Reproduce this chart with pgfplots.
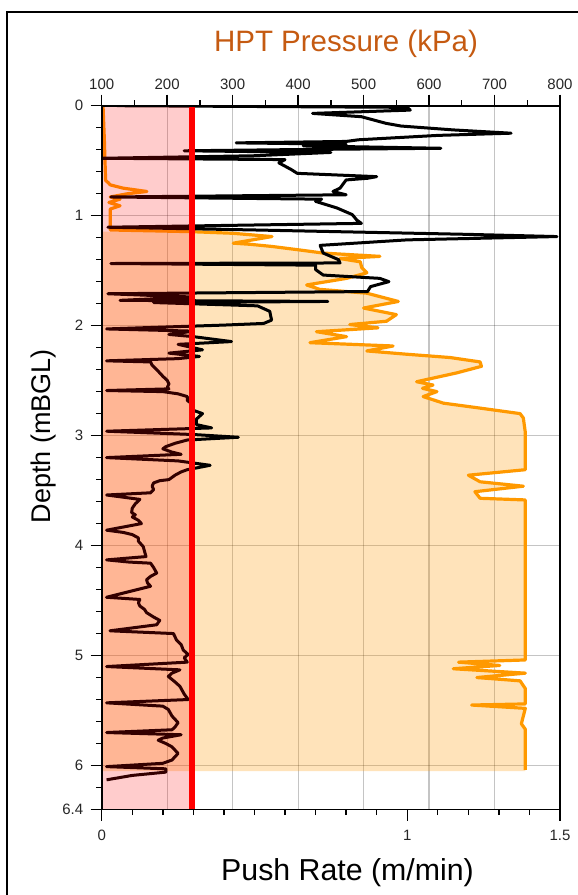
\documentclass[border=0pt]{standalone}
\usepackage{fontspec}
\setmainfont{Liberation Sans}
\usepackage{pgfplots}
\pgfplotsset{compat=1.18}
\usepackage{pgfplotstable}

\definecolor{hptTitle}{HTML}{C55A11}
\definecolor{hptLine}{HTML}{FF9900}

% HPT injection pressure (kPa) against depth (m below ground level)
\pgfplotstableread{
d p
0.00 102
0.15 103
0.30 104
0.50 105
0.68 106
0.70 110
0.72 113
0.75 133
0.78 169
0.80 140
0.83 113
0.85 128
0.88 111
0.91 128
0.94 113
1.08 113
1.13 113
1.145 235
1.16 300
1.19 360
1.25 301
1.26 326
1.28 360
1.31 400
1.34 438
1.37 525
1.39 464
1.42 495
1.47 497
1.52 505
1.57 474
1.63 413
1.67 433
1.705 505
1.78 553
1.84 500
1.90 550
1.96 535
1.99 479
2.02 522
2.055 428
2.10 474
2.155 418
2.185 545
2.23 505
2.26 566
2.29 632
2.33 678
2.37 680
2.43 642
2.51 581
2.54 606
2.57 590
2.60 612
2.645 591
2.705 622
2.75 678
2.80 739
2.84 744
2.97 747
3.31 747
3.36 660
3.42 678
3.46 744
3.51 670
3.57 678
3.585 747
5.04 747
5.06 645
5.09 708
5.12 637
5.16 747
5.20 673
5.23 739
5.30 747
5.44 747
5.45 665
5.48 747
5.62 741
5.67 747
6.04 747
}\pressure

% Push rate (m/min) against depth
\pgfplotstableread{
d u
0.000 0.05
0.015 1.00
0.040 1.01
0.070 0.69
0.100 0.85
0.160 0.93
0.185 0.98
0.220 1.15
0.250 1.34
0.270 1.10
0.310 0.84
0.325 0.80
0.338 0.44
0.350 0.80
0.365 0.66
0.387 1.11
0.400 0.60
0.410 0.27
0.425 0.75
0.455 0.50
0.478 0.00
0.490 0.60
0.520 0.58
0.580 0.62
0.615 0.64
0.645 0.90
0.660 0.87
0.675 0.80
0.750 0.78
0.780 0.757
0.810 0.80
0.830 0.03
0.850 0.72
0.870 0.70
0.930 0.77
0.990 0.82
1.040 0.835
1.070 0.85
1.105 0.02
1.130 0.50
1.170 1.20
1.190 1.49
1.220 1.00
1.270 0.715
1.340 0.725
1.400 0.775
1.430 0.78
1.435 0.03
1.450 0.70
1.490 0.70
1.540 0.725
1.570 0.91
1.600 0.94
1.645 0.88
1.690 0.87
1.710 0.02
1.740 0.30
1.770 0.06
1.780 0.74
1.790 0.17
1.820 0.51
1.870 0.55
1.950 0.556
1.980 0.53
1.995 0.40
2.030 0.016
2.050 0.30
2.080 0.22
2.100 0.30
2.145 0.425
2.170 0.25
2.220 0.33
2.250 0.22
2.280 0.32
2.300 0.25
2.320 0.016
2.330 0.16
2.360 0.165
2.400 0.18
2.430 0.19
2.460 0.20
2.500 0.215
2.530 0.22
2.560 0.215
2.575 0.22
2.590 0.016
2.600 0.20
2.620 0.25
2.645 0.28
2.680 0.28
2.720 0.30
2.770 0.30
2.800 0.33
2.850 0.31
2.900 0.31
2.930 0.36
2.960 0.016
2.990 0.30
3.015 0.447
3.040 0.28
3.070 0.24
3.100 0.21
3.120 0.20
3.150 0.23
3.170 0.26
3.200 0.016
3.230 0.25
3.270 0.355
3.310 0.28
3.330 0.26
3.360 0.24
3.400 0.22
3.410 0.19
3.430 0.17
3.460 0.165
3.490 0.17
3.520 0.16
3.540 0.016
3.580 0.125
3.620 0.11
3.660 0.10
3.700 0.098
3.720 0.11
3.740 0.10
3.770 0.12
3.800 0.13
3.860 0.016
3.880 0.07
3.900 0.10
3.930 0.12
3.960 0.12
4.010 0.136
4.050 0.14
4.100 0.145
4.130 0.016
4.150 0.09
4.160 0.16
4.200 0.17
4.250 0.18
4.280 0.16
4.310 0.147
4.340 0.15
4.370 0.16
4.470 0.016
4.490 0.125
4.520 0.12
4.550 0.125
4.580 0.14
4.610 0.147
4.650 0.17
4.680 0.19
4.720 0.18
4.775 0.027
4.800 0.235
4.830 0.24
4.860 0.245
4.900 0.26
4.950 0.267
4.990 0.283
5.020 0.27
5.060 0.28
5.100 0.016
5.130 0.256
5.160 0.23
5.190 0.218
5.240 0.24
5.280 0.256
5.350 0.27
5.400 0.283
5.430 0.016
5.460 0.20
5.490 0.218
5.550 0.23
5.610 0.25
5.650 0.24
5.675 0.23
5.700 0.016
5.720 0.26
5.750 0.20
5.770 0.185
5.800 0.21
5.830 0.23
5.890 0.25
5.950 0.23
5.980 0.20
6.010 0.016
6.030 0.21
6.060 0.21
6.090 0.10
6.130 0.016
}\pushrate

\pgfplotsset{
  logaxis/.style={
    at={(101.7pt,85.5pt)}, anchor=south west, scale only axis,
    width=458.3pt, height=703.8pt,
    ymin=0, ymax=6.4, y dir=reverse,
    tick align=outside, major tick length=11pt, minor tick length=5.5pt,
    ticklabel style={font=\fontsize{15}{18}\selectfont, text=black!85},
    /pgf/number format/assume math mode=true,
  },
}

\begin{document}
\begin{tikzpicture}
\useasboundingbox (0pt,0pt) rectangle (578pt,895pt);
\draw[line width=2pt] (7.3pt,0pt) -- (7.3pt,883pt) -- (578pt,883pt);

% pressure axis (top) with grid, shaded area and pressure trace
\begin{axis}[logaxis,
  xmin=100, xmax=800,
  axis x line*=top, axis y line*=left,
  x axis line style={-, line width=1.6pt},
  y axis line style={draw=none},
  xtick={100,200,...,800}, minor xtick={150,250,...,750},
  ytick={1,2,3,4,5,6}, yticklabels={},
  ytick style={draw=none},
  xtick style={line width=1.4pt, black},
  xticklabel style={yshift=2pt},
  grid=major, major grid style={black, opacity=0.23, line width=1.2pt},
]
\addplot[draw=none, fill=hptLine, fill opacity=0.27, restrict y to domain=1.14:6.1]
  table[x=p, y=d] {\pressure} -- (axis cs:747,6.05) -- (axis cs:100,6.05) -- (axis cs:100,1.145) -- cycle;
\addplot[hptLine, line width=3.2pt, line join=round] table[x=p, y=d] {\pressure};
\end{axis}

% push-rate axis (bottom and left)
\begin{axis}[logaxis,
  xmin=0, xmax=1.5,
  axis on top,
  axis line style={line width=1.6pt},
  xtick={0,1,1.5}, xticklabels={0,1,1.5},
  minor xtick={0.1,0.2,...,1.4},
  ytick={0,1,2,3,4,5,6,6.4}, yticklabels={0,1,2,3,4,5,6,6.4},
  minor ytick={0.2,0.4,...,6.2},
  xtick pos=bottom, ytick pos=left,
  tick style={line width=1.4pt, black},
  xticklabel style={yshift=-6pt},
  yticklabel style={xshift=-4pt},
]
\addplot[black, line width=3pt, line join=round] table[x=u, y=d] {\pushrate};
\addplot[draw=none, fill=red, fill opacity=0.2] coordinates {(0,0) (0.295,0) (0.295,6.4) (0,6.4)} -- cycle;
\addplot[red, line width=6.5pt] coordinates {(0.295,0) (0.295,6.4)};
\end{axis}

\node[anchor=base, text=hptTitle, font=\fontsize{29.5}{35}\selectfont] at (346pt,843pt) {HPT Pressure (kPa)};
\node[anchor=base, font=\fontsize{30.3}{36}\selectfont] at (347.5pt,15pt) {Push Rate (m/min)};
\node[rotate=90, anchor=base west, font=\fontsize{27}{32}\selectfont] at (50pt,368pt) {Depth (mBGL)};
\end{tikzpicture}
\end{document}
